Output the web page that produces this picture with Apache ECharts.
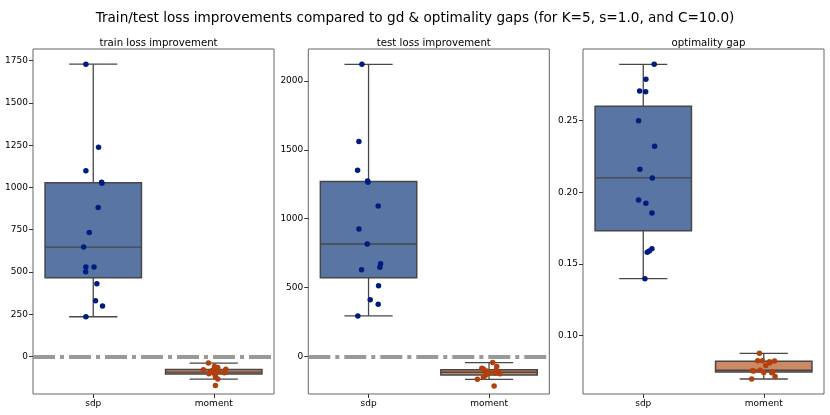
<!DOCTYPE html>
<html><head><meta charset="utf-8">
<script src="https://cdn.jsdelivr.net/npm/echarts@6/dist/echarts.min.js"></script>
<style>html,body{margin:0;padding:0;background:#fff}#c{width:830px;height:415px}</style>
</head><body><div id="c"></div>
<script>
const categories = ['sdp', 'moment'];
const suptitle = 'Train/test loss improvements compared to gd & optimality gaps (for K=5, s=1.0, and C=10.0)';
const panelTitles = ['train loss improvement', 'test loss improvement', 'optimality gap'];

const trainSdp = [1729, 1238, 1098, 1031, 1025, 881, 733, 647, 530, 530, 501, 430, 329, 298, 235];
const trainSdpJitter = [-0.061, 0.044, -0.061, 0.069, 0.072, 0.041, -0.033, -0.080, -0.061, 0.006, -0.063, 0.030, 0.019, 0.077, -0.061];
const trainMoment = [-39, -59, -65, -76, -79, -83, -88, -92, -94, -97, -102, -106, -118, -134, -171];
const trainMomentJitter = [-0.044, 0.006, 0.033, 0.100, -0.086, -0.012, 0.045, -0.028, 0.020, 0.088, -0.040, 0.010, 0.014, 0.033, 0.014];

const testSdp = [2122, 1560, 1352, 1274, 1265, 1092, 925, 816, 673, 647, 629, 513, 411, 378, 293];
const testSdpJitter = [-0.055, -0.080, -0.091, -0.008, -0.005, 0.080, -0.080, -0.011, 0.100, 0.094, -0.058, 0.083, 0.014, 0.080, -0.089];
const testMoment = [-46, -75, -87, -93, -101, -106, -112, -116, -122, -126, -131, -140, -153, -167, -216];
const testMomentJitter = [0.030, 0.064, -0.060, -0.047, 0.058, -0.019, 0.077, 0.003, 0.050, 0.090, -0.020, -0.033, -0.047, -0.097, 0.042];

const gapSdp = [0.2894, 0.2789, 0.2707, 0.2703, 0.2500, 0.2321, 0.2160, 0.2100, 0.1946, 0.1923, 0.1855, 0.1605, 0.1589, 0.1580, 0.1396];
const gapSdpJitter = [0.091, 0.022, -0.030, 0.020, -0.039, 0.094, -0.028, 0.075, -0.039, 0.022, 0.072, 0.072, 0.050, 0.033, 0.014];
const gapMoment = [0.0874, 0.0823, 0.0822, 0.0820, 0.0816, 0.0809, 0.0790, 0.0756, 0.0753, 0.0750, 0.0745, 0.0741, 0.0739, 0.0713, 0.0695];
const gapMomentJitter = [-0.036, -0.050, -0.011, 0.089, 0.047, 0.050, 0.017, -0.030, -0.094, -0.083, 0.075, 0.000, 0.066, 0.094, -0.100];

const trainTicks = [0, 250, 500, 750, 1000, 1250, 1500, 1750];
const testTicks = [0, 500, 1000, 1500, 2000];
const gapTicks = [0.10, 0.15, 0.20, 0.25];
const trainRange = [-222, 1819];
const testRange = [-274, 2233];
const gapRange = [0.0590, 0.3001];

const boxFill = ['#5975a4', '#cc8963'];
const pointColor = ['#001c7f', '#b1400d'];
const edge = '#474747';

function quantile(sorted, p) {
  const pos = (sorted.length - 1) * p, lo = Math.floor(pos), hi = Math.ceil(pos);
  return sorted[lo] + (sorted[hi] - sorted[lo]) * (pos - lo);
}
function boxStats(arr, idx) {
  const s = arr.slice().sort((a, b) => a - b);
  const q1 = quantile(s, 0.25), med = quantile(s, 0.5), q3 = quantile(s, 0.75);
  const iqr = q3 - q1;
  const lo = s.find(v => v >= q1 - 1.5 * iqr);
  const hi = s.slice().reverse().find(v => v <= q3 + 1.5 * iqr);
  return [idx, lo, q1, med, q3, hi];
}
function renderBox(params, api) {
  const x = api.value(0);
  const pMin = api.coord([x, api.value(1)]);
  const pQ1 = api.coord([x, api.value(2)]);
  const pMed = api.coord([x, api.value(3)]);
  const pQ3 = api.coord([x, api.value(4)]);
  const pMax = api.coord([x, api.value(5)]);
  const unit = api.size([1, 0])[0];
  const bw = unit * 0.8, cw = unit * 0.4, cx = pMed[0];
  const ls = { stroke: edge, lineWidth: 1.3 };
  return {
    type: 'group',
    children: [
      { type: 'line', shape: { x1: cx, y1: pQ1[1], x2: cx, y2: pMin[1] }, style: ls },
      { type: 'line', shape: { x1: cx, y1: pQ3[1], x2: cx, y2: pMax[1] }, style: ls },
      { type: 'line', shape: { x1: cx - cw / 2, y1: pMin[1], x2: cx + cw / 2, y2: pMin[1] }, style: ls },
      { type: 'line', shape: { x1: cx - cw / 2, y1: pMax[1], x2: cx + cw / 2, y2: pMax[1] }, style: ls },
      { type: 'rect', shape: { x: cx - bw / 2, y: pQ3[1], width: bw, height: pQ1[1] - pQ3[1] },
        style: { fill: boxFill[x], stroke: edge, lineWidth: 1.5 } },
      { type: 'line', shape: { x1: cx - bw / 2, y1: pMed[1], x2: cx + bw / 2, y2: pMed[1] }, style: ls }
    ]
  };
}

const panels = [
  { title: panelTitles[0], data: [trainSdp, trainMoment], jit: [trainSdpJitter, trainMomentJitter], ticks: trainTicks, range: trainRange, zero: true, fmt: v => String(v) },
  { title: panelTitles[1], data: [testSdp, testMoment], jit: [testSdpJitter, testMomentJitter], ticks: testTicks, range: testRange, zero: true, fmt: v => String(v) },
  { title: panelTitles[2], data: [gapSdp, gapMoment], jit: [gapSdpJitter, gapMomentJitter], ticks: gapTicks, range: gapRange, zero: false, fmt: v => v.toFixed(2) }
];
const gridLefts = [33, 308.3, 583];
const gridWidth = 241;
const fontFamily = 'DejaVu Sans';

const option = {
  animation: false,
  backgroundColor: '#fff',
  textStyle: { fontFamily },
  title: [{ text: suptitle, left: 'center', top: 6, textStyle: { fontFamily, fontSize: 13.6, fontWeight: 'normal', color: '#000' } }]
    .concat(panels.map((p, i) => ({
      text: p.title, left: gridLefts[i] + gridWidth / 2, top: 33, textAlign: 'center',
      textStyle: { fontFamily, fontSize: 10.2, fontWeight: 'normal', color: '#000' }
    }))),
  grid: panels.map((p, i) => ({ left: gridLefts[i], width: gridWidth, top: 49, height: 345, show: true, borderColor: '#666', borderWidth: 1, backgroundColor: 'transparent' })),
  xAxis: panels.map((p, i) => ({
    type: 'value', gridIndex: i, min: -0.5, max: 1.5, splitLine: { show: false },
    position: 'bottom',
    axisLine: { show: false, onZero: false },
    axisTick: { show: true, length: 4, lineStyle: { color: '#333' }, customValues: [0, 1] },
    axisLabel: { customValues: [0, 1], formatter: v => categories[Math.round(v)], fontFamily, fontSize: 9, color: '#000', margin: 5 }
  })),
  yAxis: panels.map((p, i) => ({
    type: 'value', gridIndex: i, min: p.range[0], max: p.range[1], splitLine: { show: false },
    position: 'left',
    axisLine: { show: false, onZero: false },
    axisTick: { show: true, length: 4, lineStyle: { color: '#333' }, customValues: p.ticks },
    axisLabel: { customValues: p.ticks, formatter: p.fmt, fontFamily, fontSize: 9, color: '#000', margin: 5 }
  })),
  series: []
};
panels.forEach((p, i) => {
  option.series.push({
    type: 'custom', xAxisIndex: i, yAxisIndex: i, renderItem: renderBox,
    data: p.data.map((d, k) => boxStats(d, k)), z: 2,
    encode: { x: 0, y: [1, 2, 3, 4, 5] }
  });
  p.data.forEach((d, k) => {
    const s = {
      type: 'scatter', xAxisIndex: i, yAxisIndex: i, z: 4,
      symbolSize: 5.5, itemStyle: { color: pointColor[k], opacity: 1 },
      data: d.map((v, j) => [k + p.jit[k][j], v])
    };
    if (p.zero && k === 0) {
      s.markLine = {
        silent: true, symbol: ['none', 'none'], label: { show: false }, z: 3,
        lineStyle: { color: '#999', width: 4, type: [22, 5, 4, 5], opacity: 1 },
        data: [{ yAxis: 0 }]
      };
    }
    option.series.push(s);
  });
});
const chart = echarts.init(document.getElementById('c'), null, { renderer: 'canvas' });
chart.setOption(option);
</script>
</body></html>
